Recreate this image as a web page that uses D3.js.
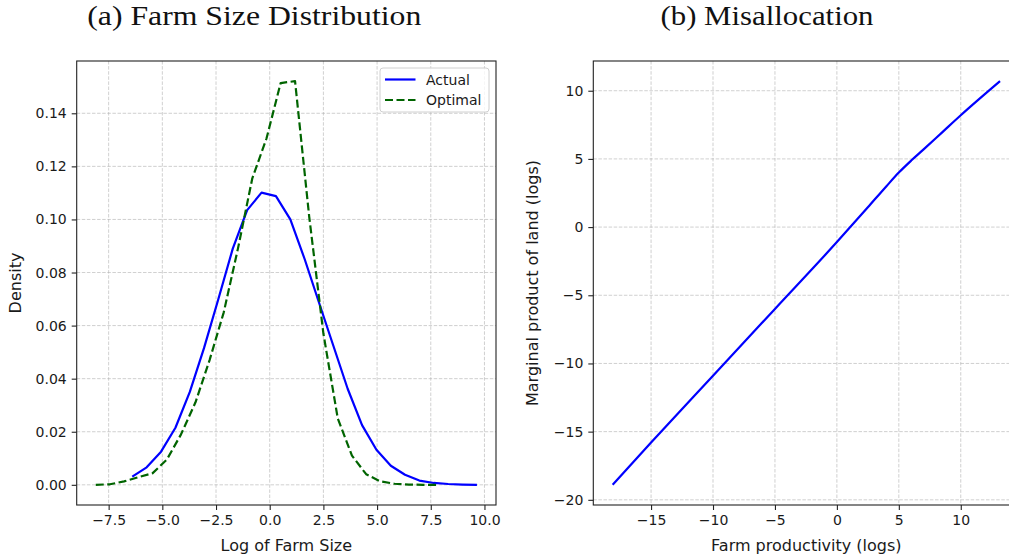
<!DOCTYPE html>
<html>
<head>
<meta charset="utf-8">
<script src="https://cdn.jsdelivr.net/npm/d3@7"></script>
<style>
  body { margin: 0; background: #fff; }
  svg { display: block; }
  .tick text { font-family: "DejaVu Sans", sans-serif; font-size: 14px; fill: #1a1a1a; }
</style>
</head>
<body>
<svg id="chart" width="1009" height="560"></svg>
<script>
// (a) farm size distribution -- density of log farm size
const actualX = [-6.40, -5.73, -5.06, -4.39, -3.72, -3.06, -2.39, -1.72, -1.05, -0.38, 0.29, 0.96, 1.63,
  2.29, 2.96, 3.63, 4.30, 4.97, 5.64, 6.30, 6.97, 7.64, 8.31, 8.98, 9.65]
const actualY = [0.0031, 0.0066, 0.0125, 0.0215, 0.0350, 0.0515, 0.0700, 0.0890, 0.1035, 0.1101, 0.1088, 0.1000, 0.0850,
  0.0688, 0.0525, 0.0362, 0.0225, 0.0132, 0.0072, 0.0038, 0.0016, 0.0007, 0.0003, 0.0001, 0.0000]
const optimalX = [-8.10, -7.44, -6.78, -6.11, -5.45, -4.79, -4.13, -3.46, -2.80, -2.14, -1.48, -0.81, -0.15,
  0.51, 1.18, 1.84, 2.50, 3.17, 3.83, 4.49, 5.15, 5.81, 6.48, 7.14, 7.80]
const optimalY = [0.0000, 0.0002, 0.0013, 0.0029, 0.0044, 0.0095, 0.0190, 0.0310, 0.0470, 0.0650, 0.0890, 0.1155, 0.1305,
  0.1514, 0.1521, 0.1010, 0.0570, 0.0250, 0.0110, 0.0040, 0.0013, 0.0004, 0.0001, 0.0000, 0.0000]
const densityTicks = [0, 0.02, 0.04, 0.06, 0.08, 0.10, 0.12, 0.14]
const sizeTicks = [-7.5, -5, -2.5, 0, 2.5, 5, 7.5, 10]

// (b) misallocation -- MPL vs productivity
const prodX = [-18.10, -15, -10, -5, 0, 2.5, 4, 5, 6, 7, 8.5, 10, 13.17]
const mplY = [-18.90, -15.80, -10.90, -6.00, -1.10, 1.45, 3.00, 4.00, 4.88, 5.70, 6.95, 8.20, 10.70]
const prodTicks = [-15, -10, -5, 0, 5, 10]
const mplTicks = [-20, -15, -10, -5, 0, 5, 10]

const svg = d3.select('#chart')
svg.append('rect').attr('width', 1009).attr('height', 560).attr('fill', '#fff')

// matplotlib style 5% padding around the data
function padded(values) {
  const [lo, hi] = d3.extent(values)
  const m = (hi - lo) * 0.05
  return [lo - m, hi + m]
}

function drawPanel(opt) {
  const { left, right, top, bottom } = opt.box
  const x = d3.scaleLinear().domain(padded(opt.xAll)).range([left, right])
  const y = d3.scaleLinear().domain(padded(opt.yAll)).range([bottom, top])
  const g = svg.append('g')

  // grid
  g.append('g').selectAll('line').data(opt.xTicks).join('line')
    .attr('x1', d => x(d)).attr('x2', d => x(d)).attr('y1', top).attr('y2', bottom)
    .attr('stroke', '#b0b0b0').attr('stroke-opacity', 0.75).attr('stroke-width', 0.8).attr('stroke-dasharray', '3.5,1.6')
  g.append('g').selectAll('line').data(opt.yTicks).join('line')
    .attr('x1', left).attr('x2', right).attr('y1', d => y(d)).attr('y2', d => y(d))
    .attr('stroke', '#b0b0b0').attr('stroke-opacity', 0.75).attr('stroke-width', 0.8).attr('stroke-dasharray', '3.5,1.6')

  // series
  opt.series.forEach(s => {
    const pts = s.xs.map((v, i) => [v, s.ys[i]])
    g.append('path').datum(pts)
      .attr('d', d3.line().curve(s.curve || d3.curveLinear).x(d => x(d[0])).y(d => y(d[1])))
      .attr('fill', 'none').attr('stroke', s.color).attr('stroke-width', 2.2)
      .attr('stroke-dasharray', s.dash || null)
      .attr('stroke-linejoin', 'round')
  })

  // axes
  const xAxis = g.append('g').attr('transform', `translate(0,${bottom})`)
    .call(d3.axisBottom(x).tickValues(opt.xTicks).tickFormat(d3.format(opt.xFmt)).tickSizeOuter(0).tickSize(5).tickPadding(5))
  const yAxis = g.append('g').attr('transform', `translate(${left},0)`)
    .call(d3.axisLeft(y).tickValues(opt.yTicks).tickFormat(d3.format(opt.yFmt)).tickSizeOuter(0).tickSize(5).tickPadding(5))
  ;[xAxis, yAxis].forEach(a => {
    a.select('.domain').remove()
    a.selectAll('.tick line').attr('stroke', '#222').attr('stroke-width', 1.1)
  })

  // spines
  g.append('rect').attr('x', left).attr('y', top).attr('width', right - left).attr('height', bottom - top)
    .attr('fill', 'none').attr('stroke', '#222').attr('stroke-width', 1.1)

  g.append('text').text(opt.xLabel)
    .attr('x', (left + right) / 2).attr('y', 551).attr('text-anchor', 'middle')
    .attr('font-family', 'DejaVu Sans').attr('font-size', 16).attr('fill', '#1a1a1a')
  g.append('text').text(opt.yLabel)
    .attr('transform', `translate(${opt.yLabelX},${(top + bottom) / 2}) rotate(-90)`)
    .attr('text-anchor', 'middle')
    .attr('font-family', 'DejaVu Sans').attr('font-size', 16).attr('fill', '#1a1a1a')
  return { x, y, g }
}

const left = drawPanel({
  box: { left: 76.7, right: 496, top: 61, bottom: 505 },
  xAll: actualX.concat(optimalX), yAll: actualY.concat(optimalY),
  xTicks: sizeTicks, yTicks: densityTicks, xFmt: '.1f', yFmt: '.2f',
  series: [
    { xs: actualX, ys: actualY, color: '#0000ff' },
    { xs: optimalX, ys: optimalY, color: '#006400', dash: '8,3.5' }
  ],
  xLabel: 'Log of Farm Size', yLabel: 'Density', yLabelX: 21
})

drawPanel({
  box: { left: 593.3, right: 1019.4, top: 61, bottom: 505 },
  xAll: prodX, yAll: mplY,
  xTicks: prodTicks, yTicks: mplTicks, xFmt: 'd', yFmt: 'd',
  series: [{ xs: prodX, ys: mplY, color: '#0000ff', curve: d3.curveMonotoneX }],
  xLabel: 'Farm productivity (logs)', yLabel: 'Marginal product of land (logs)', yLabelX: 538
})

// legend
const legend = left.g.append('g').attr('transform', 'translate(380,68)')
legend.append('rect').attr('width', 109).attr('height', 44).attr('rx', 3)
  .attr('fill', '#fff').attr('fill-opacity', 0.8).attr('stroke', '#d0d0d0').attr('stroke-width', 1)
const legendItems = [
  { label: 'Actual', color: '#0000ff', dash: null },
  { label: 'Optimal', color: '#006400', dash: '8,3.5' }
]
legendItems.forEach((d, i) => {
  const yy = 11.5 + i * 20.5
  legend.append('line').attr('x1', 5).attr('x2', 35.5).attr('y1', yy).attr('y2', yy)
    .attr('stroke', d.color).attr('stroke-width', 2.2).attr('stroke-dasharray', d.dash)
  legend.append('text').text(d.label).attr('x', 46).attr('y', yy + 5)
    .attr('font-family', 'DejaVu Sans').attr('font-size', 14).attr('fill', '#1a1a1a')
})

// sub-figure captions
svg.append('text').text('(a) Farm Size Distribution')
  .attr('x', 87.3).attr('y', 24.5).attr('textLength', 334).attr('lengthAdjust', 'spacingAndGlyphs')
  .attr('font-family', 'Liberation Serif').attr('font-size', 27).attr('fill', '#111')
svg.append('text').text('(b) Misallocation')
  .attr('x', 660.5).attr('y', 24.5).attr('textLength', 213).attr('lengthAdjust', 'spacingAndGlyphs')
  .attr('font-family', 'Liberation Serif').attr('font-size', 27).attr('fill', '#111')
</script>
</body>
</html>
